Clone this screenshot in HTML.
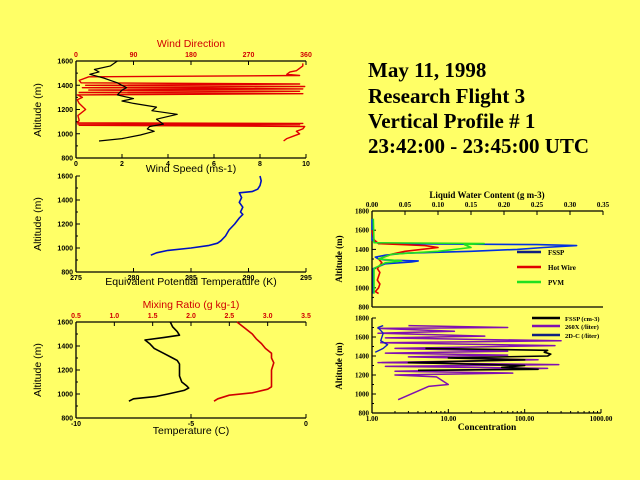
<!DOCTYPE html>
<html><head><meta charset="utf-8"><style>
body{margin:0;background:#ffff66;}
svg{display:block;font-family:"Liberation Sans",sans-serif;}
.t{font-family:"Liberation Serif",serif;font-weight:bold;font-size:21px;fill:#000}
.tk{font-size:7px;font-weight:bold}
.ti{font-size:10.5px}
.sr{font-family:"Liberation Serif",serif;font-weight:bold}
</style></head><body>
<svg id="s" width="640" height="480" viewBox="0 0 640 480">
<rect width="640" height="480" fill="#ffff66"/>
<g>
<text class="t" x="368" y="77">May 11, 1998</text>
<text class="t" x="368" y="103">Research Flight 3</text>
<text class="t" x="368" y="128">Vertical Profile # 1</text>
<text class="t" x="368" y="153">23:42:00 - 23:45:00 UTC</text>
</g>
</svg>
<script>
// ---- data arrays ----
const windAlt=[940,960,990,1020,1040,1060,1080,1120,1160,1190,1220,1250,1270,1290,1320,1360,1380,1400,1420,1440,1460,1490,1510,1530,1560,1600];
const windSpeed=[1,2,2.8,3.4,3.1,3.2,3.8,3.5,4.4,3.3,3.5,2.5,2,2.5,1.8,2,2.2,2,1.8,1.5,1.2,0.6,1,0.8,1.5,1.8];
const dirAlt=[940,960,980,1000,1020,1040,1060,1070,1075,1080,1085,1090,1110,1150,1200,1250,1280,1300,1320,1330,1340,1350,1360,1370,1380,1390,1400,1410,1420,1440,1470,1480,1490,1510,1520,1540,1560,1580];
const windDir=[325,330,340,350,345,355,358,5,350,3,355,2,5,3,15,5,2,10,2,355,5,350,20,355,10,358,15,350,8,5,20,350,330,335,345,350,355,355];
const thetaAlt=[940,960,980,1000,1020,1040,1060,1100,1150,1200,1250,1280,1300,1340,1380,1420,1460,1470,1490,1520,1560,1600];
const thetaE=[281.5,282,283,285,286.5,287.3,287.6,288,288.3,288.8,289.2,289.5,289.3,289.5,289.2,289.4,289.2,290.3,290.8,291,291.1,291];
const tAlt=[940,960,980,1000,1030,1050,1070,1100,1150,1200,1250,1280,1300,1340,1380,1420,1450,1470,1490,1520,1560,1600];
const temp=[-7.7,-7.5,-6.5,-6,-5.3,-5.1,-5.2,-5.4,-5.5,-5.5,-5.5,-5.6,-5.8,-6.2,-6.6,-6.8,-7,-6.2,-5.5,-5.6,-5.8,-5.9];
const mrAlt=[940,960,990,1010,1040,1060,1100,1150,1200,1260,1300,1340,1380,1420,1460,1500,1550,1600];
const mixRatio=[2.3,2.35,2.5,2.8,3.0,3.05,3.05,3.05,3.05,3.08,3.05,3.05,2.97,2.92,2.85,2.8,2.7,2.6];
const fsspAlt=[940,1000,1200,1250,1270,1280,1290,1300,1320,1340,1360,1380,1400,1420,1440,1450,1460,1500,1720];
const fsspLwc=[0.002,0.002,0.002,0.02,0.06,0.07,0.02,0.01,0.005,0.02,0.05,0.15,0.22,0.26,0.31,0.25,0.01,0,0];
const hwAlt=[940,960,1000,1040,1080,1120,1160,1200,1260,1300,1350,1380,1420,1440,1460,1500,1600];
const hwLwc=[0.01,0.005,0.01,0.012,0.008,0.01,0.012,0.008,0.015,0.01,0.03,0.05,0.1,0.08,0.01,0.003,0];
const pvmAlt=[940,1200,1260,1280,1300,1350,1380,1420,1450,1460,1470,1720];
const pvmLwc=[0.003,0.003,0.02,0.045,0.01,0.03,0.1,0.15,0.14,0.17,0.003,0.002];
const fcAlt=[1250,1260,1280,1300,1330,1360,1380,1400,1420,1440,1460,1475,1480];
const fsspConc=[4,150,50,100,3,100,10,200,220,180,200,15,5];
const dcAlt=[940,1080,1100,1180,1200,1220,1240,1270,1290,1310,1330,1360,1390,1410,1430,1450,1480,1510,1540,1560,1590,1610,1640,1660,1690,1700,1720];
const c260x=[2.2,5.5,10,7,2,70,2,200,1.5,280,1.2,150,3,60,1.5,60,2,250,1.3,300,1.5,30,1.2,12,1.2,60,3];
const d2cAlt=[1440,1480,1520,1560,1640,1700,1720];
const d2cConc=[1.1,1.4,1.6,1.3,1.4,1.2,1.4];
const yTicks=[800,1000,1200,1400,1600];
const yTicks2=[800,1000,1200,1400,1600,1800];
// ---- helpers ----
const NS="http://www.w3.org/2000/svg";const svg=document.getElementById('s');
function mk(t,a,p){const e=document.createElementNS(NS,t);for(const k in a)e.setAttribute(k,a[k]);(p||svg).appendChild(e);return e;}
function txt(x,y,s,cls,anchor,fill,p,rot){const e=mk('text',{x:x,y:y,'class':cls,'text-anchor':anchor||'middle',fill:fill||'#000'},p);if(rot)e.setAttribute('transform','rotate(-90 '+x+' '+y+')');e.textContent=s;return e;}
function lin(a,b,c,d){return v=>c+(v-a)/(b-a)*(d-c);}
function line(xs,ys,fx,fy,col,w,name,p){const pts=xs.map((v,i)=>fx(v).toFixed(1)+','+fy(ys[i]).toFixed(1)).join(' ');const e=mk('polyline',{points:pts,fill:'none',stroke:col,'stroke-width':w,'stroke-linejoin':'round'},p);

return e;}
function frame(x0,x1,y0,y1,top,name){const g=mk('g',{});


mk('line',{x1:x0,y1:y0,x2:x0,y2:y1,stroke:'#000','stroke-width':1.3},g);mk('line',{x1:x0,y1:y1,x2:x1,y2:y1,stroke:'#000','stroke-width':1.3},g);
if(top)mk('line',{x1:x0,y1:y0,x2:x1,y2:y0,stroke:'#000','stroke-width':1.3},g);return g;}
function yaxis(g,x0,fy,ticks,cls){ticks.forEach(t=>{mk('line',{x1:x0,y1:fy(t),x2:x0+4,y2:fy(t),stroke:'#000'},g);txt(x0-3,fy(t)+2.5,String(t),cls||'tk','end','#000',g);});
for(let i=0;i<ticks.length-1;i++){const m=(ticks[i]+ticks[i+1])/2;mk('line',{x1:x0,y1:fy(m),x2:x0+2,y2:fy(m),stroke:'#000'},g);}}
function xaxis(g,y,fx,ticks,labels,up,col,cls){ticks.forEach((t,i)=>{mk('line',{x1:fx(t),y1:y,x2:fx(t),y2:up?y+4:y-4,stroke:'#000'},g);txt(fx(t),up?y-4:y+8,labels[i],cls||'tk','middle',col||'#000',g);});}
// ---- Panel 1: wind ----
{const x0=76,x1=306,y0=61,y1=158;const g=frame(x0,x1,y0,y1,true,'wind-panel');const fy=lin(800,1600,y1,y0);
const fs=lin(0,10,x0,x1),fd=lin(0,360,x0,x1);yaxis(g,x0,fy,yTicks);
xaxis(g,y1,fs,[0,2,4,6,8,10],['0','2','4','6','8','10']);
xaxis(g,y0,fd,[0,90,180,270,360],['0','90','180','270','360'],true,'#d00000');
txt(191,47,'Wind Direction','ti','middle','#d00000',g);txt(191,172,'Wind Speed (ms-1)','ti','middle','#000',g);
txt(41,110,'Altitude (m)','ti','middle','#000',g,true);
line(windDir,dirAlt,fd,fy,'#e00000',1.4,'wind-direction-line',g);
line(windSpeed,windAlt,fs,fy,'#000',1.2,'wind-speed-line',g);}
// ---- Panel 2: theta-e ----
{const x0=76,x1=306,y0=176,y1=272;const g=frame(x0,x1,y0,y1,false,'theta-panel');const fy=lin(800,1600,y1,y0);const fx=lin(275,295,x0,x1);
yaxis(g,x0,fy,yTicks);xaxis(g,y1,fx,[275,280,285,290,295],['275','280','285','290','295']);
txt(191,285,'Equivalent Potential Temperature (K)','ti','middle','#000',g);txt(41,224,'Altitude (m)','ti','middle','#000',g,true);
line(thetaE,thetaAlt,fx,fy,'#0010c0',1.6,'theta-e-line',g);}
// ---- Panel 3: T & mixing ratio ----
{const x0=76,x1=306,y0=322,y1=418;const g=frame(x0,x1,y0,y1,true,'temperature-panel');const fy=lin(800,1600,y1,y0);
const ft=lin(-10,0,x0,x1),fm=lin(0.5,3.5,x0,x1);yaxis(g,x0,fy,yTicks);
xaxis(g,y1,ft,[-10,-5,0],['-10','-5','0']);
xaxis(g,y0,fm,[0.5,1,1.5,2,2.5,3,3.5],['0.5','1.0','1.5','2.0','2.5','3.0','3.5'],true,'#d00000');
txt(191,308,'Mixing Ratio (g kg-1)','ti','middle','#d00000',g);txt(191,434,'Temperature (C)','ti','middle','#000',g);
txt(41,370,'Altitude (m)','ti','middle','#000',g,true);
line(temp,tAlt,ft,fy,'#000',1.6,'temperature-line',g);line(mixRatio,mrAlt,fm,fy,'#d00000',1.6,'mixing-ratio-line',g);}
// ---- Panel 4: LWC ----
{const x0=372,x1=603,y0=211,y1=307;const g=frame(x0,x1,y0,y1,true,'lwc-panel');const fy=lin(800,1800,y1,y0);const fx=lin(0,0.35,x0,x1);
yaxis(g,x0,fy,yTicks2,'tk sr');xaxis(g,y0,fx,[0,0.05,0.1,0.15,0.2,0.25,0.3,0.35],['0.00','0.05','0.10','0.15','0.20','0.25','0.30','0.35'],true,'#000','tk sr');
txt(487,198,'Liquid Water Content (g m-3)','sr','middle','#000',g).setAttribute('font-size','9');
txt(342,259,'Altitude (m)','sr','middle','#000',g,true).setAttribute('font-size','9');
line(fsspLwc,fsspAlt,fx,fy,'#0030e0',1.6,'fssp-lwc-line',g);line(hwLwc,hwAlt,fx,fy,'#e00000',1.6,'hot-wire-lwc-line',g);line(pvmLwc,pvmAlt,fx,fy,'#20e020',1.6,'pvm-lwc-line',g);
[['FSSP','#102080',252],['Hot Wire','#e00000',267],['PVM','#20e020',282]].forEach(l=>{const lg=mk('g',{},g);


mk('line',{x1:517,y1:l[2],x2:541,y2:l[2],stroke:l[1],'stroke-width':2.5},lg);txt(548,l[2]+3,l[0],'sr','start','#000',lg).setAttribute('font-size','7');});}
// ---- Panel 5: concentration ----
{const x0=372,x1=601,y0=318,y1=413;const g=frame(x0,x1,y0,y1,false,'concentration-panel');const fy=lin(800,1800,y1,y0);const fx=v=>x0+Math.log10(v)/3*(x1-x0);
yaxis(g,x0,fy,yTicks2,'tk sr');xaxis(g,y1,fx,[1,10,100,1000],['1.00','10.00','100.00','1000.00'],false,'#000','tk sr');
for(let d=1;d<1000;d*=10)for(let k=2;k<10;k++)mk('line',{x1:fx(d*k),y1:y1,x2:fx(d*k),y2:y1-2,stroke:'#000'},g);
txt(487,430,'Concentration','sr','middle','#000',g).setAttribute('font-size','9.5');
txt(342,366,'Altitude (m)','sr','middle','#000',g,true).setAttribute('font-size','9');
line(c260x,dcAlt,fx,fy,'#8010b0',1.5,'260x-line',g);line(fsspConc,fcAlt,fx,fy,'#000',1.6,'fssp-concentration-line',g);line(d2cConc,d2cAlt,fx,fy,'#1020c0',1.4,'2d-c-line',g);
[['FSSP (cm-3)','#000',318],['260X (/liter)','#8010b0',326],['2D-C (/liter)','#102080',335]].forEach(l=>{const lg=mk('g',{},g);


mk('line',{x1:532,y1:l[2],x2:560,y2:l[2],stroke:l[1],'stroke-width':2.5},lg);txt(565,l[2]+3,l[0],'sr','start','#000',lg).setAttribute('font-size','6.5');});}
</script>
</body></html>
